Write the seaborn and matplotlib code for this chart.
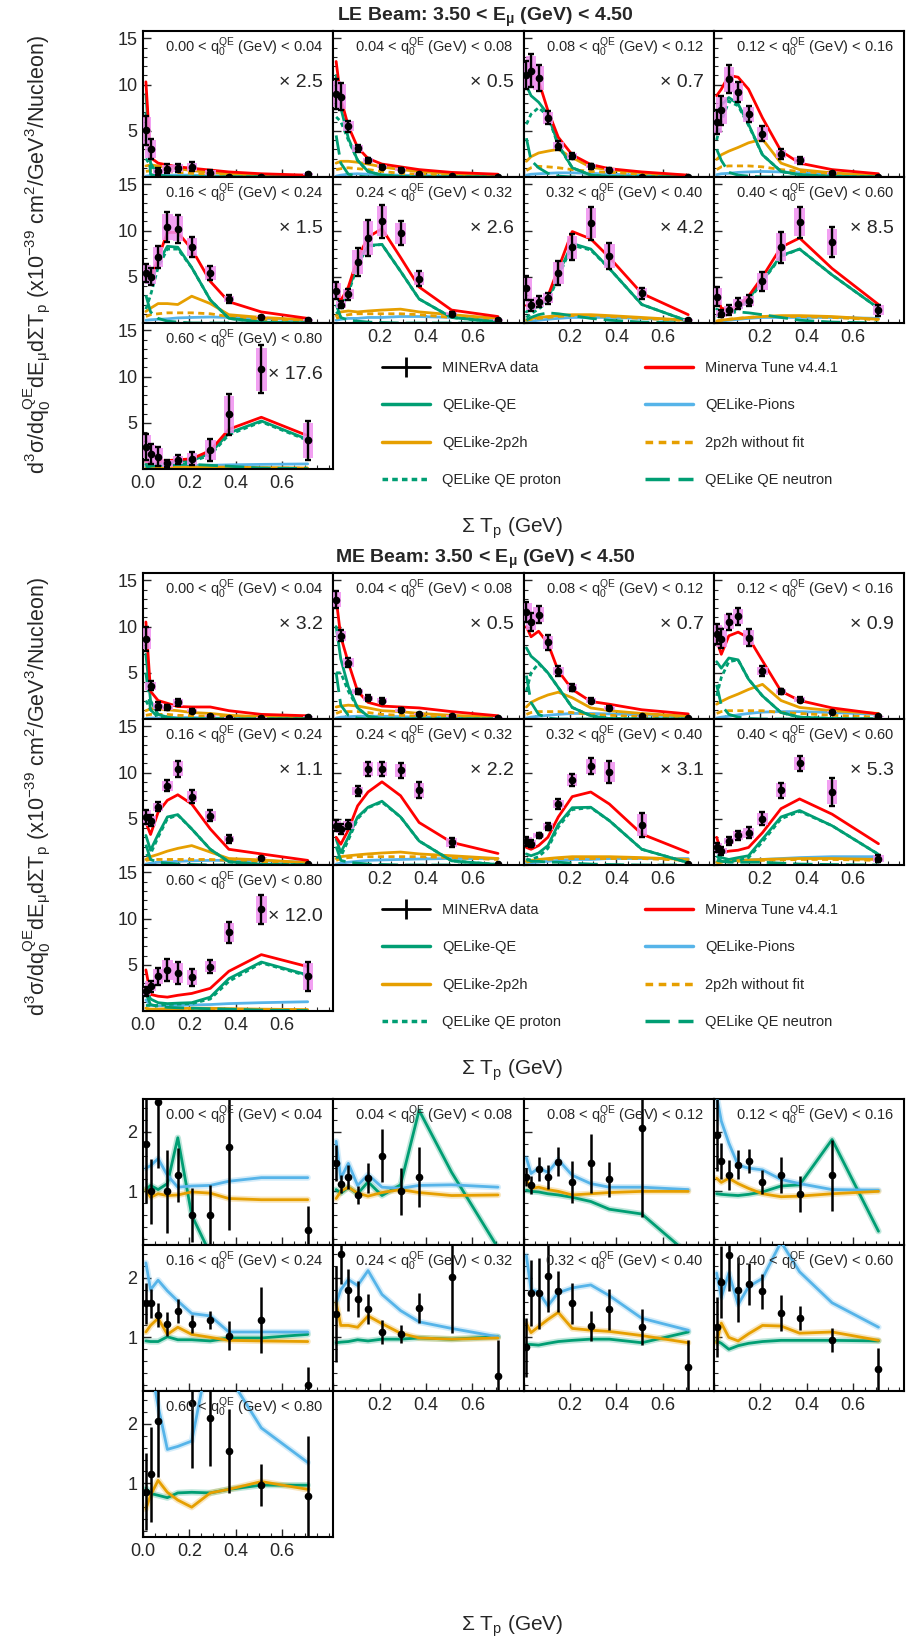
import numpy as np
import matplotlib
matplotlib.use("Agg")
import matplotlib.pyplot as plt
import seaborn as sns
from matplotlib.lines import Line2D
from matplotlib.ticker import MultipleLocator, FixedLocator

sns.set_theme(style="ticks")
plt.rcParams["font.family"] = ["Liberation Sans", "DejaVu Sans"]
plt.rcParams["mathtext.fontset"] = "custom"
plt.rcParams["mathtext.rm"] = "Liberation Sans"
plt.rcParams["mathtext.it"] = "Liberation Sans:italic"
plt.rcParams["mathtext.bf"] = "Liberation Sans:bold"

# --- Data ---
x_centers = [0.0125, 0.0325, 0.065, 0.105, 0.15, 0.21, 0.29, 0.37, 0.51, 0.71]
q0_edges = ["0.00", "0.04", "0.08", "0.12", "0.16", "0.24", "0.32", "0.40", "0.60", "0.80"]
le_scale = ["2.5", "0.5", "0.7", None, "1.5", "2.6", "4.2", "8.5", "17.6"]
me_scale = ["3.2", "0.5", "0.7", "0.9", "1.1", "2.2", "3.1", "5.3", "12.0"]

le_data = [
    [5.05, 3.0, 0.6, 0.9, 1.0, 1.1, 0.45, 0.05, 0.05, 0.3],
    [9.0, 8.7, 5.5, 3.1, 1.8, 1.1, 0.8, 0.3, 0.1, 0.05],
    [11.0, 11.5, 10.7, 6.4, 3.4, 2.3, 1.15, 0.8, 0.05, 0.02],
    [5.9, 7.2, 10.6, 9.2, 6.8, 4.7, 2.5, 1.8, 0.45, 0.05],
    [5.4, 5.0, 7.1, 10.4, 10.2, 8.2, 5.4, 2.6, 0.7, 0.3],
    [3.5, 2.0, 3.1, 6.6, 9.2, 11.0, 9.7, 4.8, 1.0, 0.3],
    [3.75, 1.9, 2.3, 2.7, 5.4, 8.2, 10.8, 7.25, 3.2, 0.35],
    [2.85, 1.0, 1.4, 2.1, 2.4, 4.5, 8.2, 10.9, 8.75, 1.4],
    [2.4, 1.6, 1.35, 0.6, 1.0, 1.1, 2.1, 5.9, 10.8, 3.1],
]
le_err = [
    [1.6, 1.1, 0.35, 0.5, 0.45, 0.5, 0.3, 0.1, 0.05, 0.1],
    [1.6, 1.5, 0.6, 0.4, 0.3, 0.2, 0.15, 0.1, 0.05, 0.05],
    [1.5, 1.8, 1.4, 0.7, 0.45, 0.35, 0.25, 0.2, 0.05, 0.02],
    [1.3, 1.6, 1.5, 1.1, 0.9, 0.8, 0.5, 0.4, 0.1, 0.05],
    [1.0, 0.9, 1.2, 1.6, 1.5, 1.1, 0.8, 0.4, 0.1, 0.1],
    [0.9, 0.4, 0.6, 1.5, 2.0, 1.8, 1.3, 0.8, 0.2, 0.1],
    [1.3, 0.6, 0.6, 0.6, 1.3, 1.4, 1.8, 1.4, 0.6, 0.1],
    [1.0, 0.4, 0.5, 0.6, 0.6, 1.0, 1.7, 1.7, 1.6, 0.6],
    [1.4, 1.1, 1.0, 0.4, 0.5, 0.7, 1.2, 2.2, 2.6, 2.1],
]
le_tune = [
    [10.3, 2.1, 1.5, 1.3, 1.1, 0.95, 0.75, 0.55, 0.35, 0.2],
    [12.5, 8.5, 5.5, 3.2, 2.0, 1.4, 1.1, 0.8, 0.5, 0.3],
    [11.5, 11.2, 10.4, 7.2, 4.3, 2.4, 1.35, 0.9, 0.55, 0.2],
    [8.8, 9.5, 11.0, 10.8, 9.5, 6.4, 2.8, 1.5, 0.8, 0.35],
    [5.5, 4.8, 7.0, 9.8, 9.8, 8.0, 4.5, 2.3, 1.2, 0.5],
    [4.4, 2.4, 3.9, 7.0, 9.3, 10.2, 7.1, 3.9, 1.4, 0.7],
    [1.9, 1.8, 2.0, 2.9, 5.9, 9.9, 9.1, 7.1, 3.2, 0.9],
    [3.0, 1.6, 1.4, 1.8, 2.9, 5.0, 8.2, 9.2, 5.9, 2.0],
    [0.8, 0.7, 0.8, 0.9, 1.0, 1.1, 2.0, 4.3, 5.6, 3.6],
]
le_qe = [
    [9.0, 1.5, 0.2, 0.05, 0, 0, 0, 0, 0, 0],
    [11.0, 7.5, 4.2, 1.8, 0.6, 0.2, 0.05, 0, 0, 0],
    [9.9, 8.8, 8.1, 6.8, 3.5, 1.0, 0.2, 0.05, 0, 0],
    [7.0, 7.8, 8.6, 7.9, 5.7, 2.4, 0.6, 0.25, 0.05, 0],
    [4.5, 4.2, 6.5, 8.3, 8.2, 6.0, 2.5, 0.5, 0.1, 0],
    [3.0, 2.0, 3.5, 6.5, 8.4, 8.5, 5.6, 2.6, 0.6, 0.1],
    [1.2, 1.5, 1.8, 2.6, 5.3, 8.6, 8.0, 5.9, 2.0, 0.2],
    [1.5, 1.2, 1.2, 1.6, 2.6, 4.6, 7.3, 8.0, 5.2, 1.6],
    [0.5, 0.5, 0.6, 0.7, 0.8, 0.9, 1.7, 3.9, 5.2, 3.2],
]
le_qe_p = [
    [2.0, 1.2, 0.2, 0.05, 0, 0, 0, 0, 0, 0],
    [6.5, 6.0, 4.0, 1.8, 0.6, 0.2, 0.05, 0, 0, 0],
    [5.7, 6.8, 7.5, 6.6, 3.4, 1.0, 0.2, 0.05, 0, 0],
    [4.0, 6.0, 8.2, 7.7, 5.6, 2.4, 0.6, 0.25, 0.05, 0],
    [1.5, 3.0, 6.0, 8.0, 8.0, 6.0, 2.5, 0.5, 0.1, 0],
    [1.0, 1.5, 3.2, 6.3, 8.3, 8.5, 5.6, 2.6, 0.6, 0.1],
    [0.6, 1.0, 1.5, 2.3, 5.0, 8.4, 7.9, 5.9, 2.0, 0.2],
    [0.7, 0.8, 1.0, 1.4, 2.4, 4.5, 7.2, 8.0, 5.2, 1.6],
    [0.3, 0.3, 0.4, 0.5, 0.6, 0.8, 1.5, 3.7, 5.1, 3.1],
]
le_qe_n = [
    [7.0, 0.3, 0, 0, 0, 0, 0, 0, 0, 0],
    [4.5, 1.5, 0.3, 0.1, 0, 0, 0, 0, 0, 0],
    [4.2, 1.8, 1.0, 0.4, 0.1, 0, 0, 0, 0, 0],
    [3.0, 1.8, 0.5, 0.2, 0.1, 0, 0, 0, 0, 0],
    [3.0, 1.2, 0.5, 0.2, 0.1, 0, 0, 0, 0, 0],
    [2.0, 0.6, 0.3, 0.2, 0.1, 0.05, 0, 0, 0, 0],
    [0.3, 0.6, 0.9, 1.1, 1.0, 0.8, 0.5, 0.3, 0.1, 0],
    [0.8, 1.0, 1.1, 1.2, 1.1, 0.9, 0.6, 0.3, 0.1, 0],
    [0.2, 0.3, 0.4, 0.4, 0.5, 0.5, 0.4, 0.3, 0.1, 0.05],
]
le_mec = [
    [1.2, 1.3, 1.2, 1.0, 0.9, 0.7, 0.5, 0.35, 0.2, 0.1],
    [1.5, 1.7, 1.7, 1.6, 1.4, 1.1, 0.8, 0.6, 0.35, 0.15],
    [1.7, 2.2, 2.6, 2.8, 3.0, 2.1, 1.05, 0.8, 0.45, 0.15],
    [1.9, 2.4, 2.8, 3.2, 3.7, 4.1, 1.5, 0.8, 0.45, 0.15],
    [1.25, 1.6, 2.1, 2.1, 2.0, 2.9, 2.1, 0.9, 0.6, 0.35],
    [0.8, 1.2, 1.3, 1.2, 1.3, 1.4, 1.5, 1.2, 0.9, 0.5],
    [0.3, 0.5, 0.6, 0.7, 0.8, 0.9, 0.9, 0.8, 0.6, 0.3],
    [0.2, 0.3, 0.4, 0.5, 0.6, 0.7, 0.8, 0.8, 0.7, 0.4],
    [0.1, 0.1, 0.15, 0.2, 0.2, 0.2, 0.2, 0.2, 0.15, 0.1],
]
le_mec_nofit = [
    [0.6, 0.7, 0.7, 0.6, 0.5, 0.4, 0.3, 0.2, 0.1, 0.05],
    [0.8, 0.9, 1.0, 0.9, 0.8, 0.6, 0.4, 0.3, 0.2, 0.1],
    [0.7, 1.0, 1.15, 1.1, 1.0, 0.8, 0.6, 0.5, 0.3, 0.1],
    [0.8, 1.1, 1.2, 1.2, 1.2, 1.1, 0.8, 0.6, 0.35, 0.1],
    [0.7, 0.9, 1.0, 1.1, 1.1, 1.1, 1.0, 0.7, 0.4, 0.2],
    [0.5, 0.7, 0.9, 1.0, 1.0, 1.0, 1.0, 0.9, 0.6, 0.3],
    [0.3, 0.4, 0.5, 0.6, 0.7, 0.8, 0.8, 0.7, 0.5, 0.25],
    [0.2, 0.3, 0.4, 0.5, 0.6, 0.7, 0.7, 0.7, 0.6, 0.35],
    [0.1, 0.1, 0.1, 0.15, 0.15, 0.15, 0.15, 0.15, 0.1, 0.1],
]
le_pion = [
    [0.1, 0.15, 0.2, 0.2, 0.2, 0.2, 0.15, 0.1, 0.1, 0.05],
    [0.1, 0.2, 0.3, 0.35, 0.3, 0.25, 0.2, 0.15, 0.1, 0.05],
    [0.2, 0.3, 0.35, 0.4, 0.45, 0.45, 0.4, 0.3, 0.2, 0.1],
    [0.25, 0.35, 0.4, 0.5, 0.55, 0.6, 0.55, 0.45, 0.3, 0.15],
    [0.3, 0.35, 0.4, 0.45, 0.55, 0.6, 0.65, 0.6, 0.5, 0.3],
    [0.3, 0.4, 0.5, 0.5, 0.6, 0.6, 0.7, 0.7, 0.6, 0.4],
    [0.1, 0.2, 0.3, 0.4, 0.5, 0.6, 0.6, 0.6, 0.5, 0.3],
    [0.1, 0.2, 0.3, 0.4, 0.5, 0.6, 0.6, 0.6, 0.6, 0.5],
    [0.3, 0.3, 0.3, 0.35, 0.35, 0.4, 0.4, 0.45, 0.5, 0.55],
]

me_data = [
    [8.7, 3.6, 1.4, 1.25, 1.8, 0.9, 0.35, 0.15, 0.15, 0.25],
    [12.9, 9.0, 6.1, 3.0, 2.25, 2.0, 0.95, 0.55, 0.3, 0.15],
    [11.6, 10.5, 11.3, 8.3, 5.2, 3.4, 2.0, 1.2, 0.3, 0.1],
    [9.2, 8.7, 10.5, 11.1, 8.8, 5.2, 3.0, 2.1, 0.8, 0.3],
    [5.2, 4.8, 6.3, 8.6, 10.4, 7.4, 5.35, 2.8, 0.8, 0.1],
    [4.25, 3.9, 4.35, 8.0, 10.4, 10.4, 10.25, 8.1, 2.45, 0.1],
    [2.55, 2.3, 3.2, 4.15, 6.6, 9.2, 10.7, 10.1, 4.35, 0.1],
    [1.9, 1.5, 2.6, 3.2, 3.5, 5.0, 8.1, 11.0, 7.9, 0.7],
    [2.15, 2.7, 3.75, 4.45, 4.1, 3.65, 4.8, 8.5, 11.0, 3.75],
]
me_err = [
    [1.3, 0.5, 0.4, 0.3, 0.4, 0.2, 0.1, 0.05, 0.05, 0.05],
    [0.9, 0.6, 0.5, 0.3, 0.3, 0.3, 0.2, 0.15, 0.1, 0.05],
    [1.1, 1.0, 0.9, 0.8, 0.5, 0.4, 0.3, 0.2, 0.05, 0.05],
    [1.1, 1.0, 0.9, 0.9, 0.9, 0.5, 0.3, 0.3, 0.1, 0.05],
    [0.8, 0.6, 0.5, 0.6, 0.9, 0.7, 0.6, 0.4, 0.1, 0.05],
    [0.6, 0.5, 0.5, 0.5, 0.8, 0.8, 0.8, 0.9, 0.5, 0.05],
    [0.5, 0.4, 0.3, 0.4, 0.5, 0.7, 0.9, 1.2, 1.3, 0.05],
    [0.5, 0.4, 0.4, 0.5, 0.6, 0.7, 0.8, 0.8, 1.5, 0.4],
    [0.5, 0.6, 0.9, 1.2, 1.2, 0.9, 0.7, 1.1, 1.6, 1.6],
]
me_tune = [
    [10.5, 3.0, 2.0, 1.7, 1.35, 1.3, 1.3, 0.9, 0.5, 0.35],
    [13.0, 8.9, 6.1, 3.0, 1.8, 1.4, 1.3, 1.2, 0.8, 0.35],
    [10.0, 8.9, 9.5, 8.2, 5.2, 3.2, 1.9, 1.6, 1.0, 0.55],
    [8.5, 7.0, 9.0, 9.4, 8.8, 6.3, 3.0, 2.0, 1.2, 0.55],
    [4.6, 3.3, 5.7, 7.0, 7.6, 6.6, 3.9, 1.7, 1.2, 0.5],
    [3.0, 2.25, 3.8, 6.4, 7.9, 9.0, 7.5, 4.6, 2.45, 1.25],
    [1.9, 1.7, 2.1, 3.0, 5.2, 7.4, 7.9, 6.6, 3.35, 1.35],
    [3.0, 1.35, 1.5, 1.6, 1.9, 3.5, 6.1, 7.15, 5.5, 2.3],
    [4.45, 1.8, 1.6, 1.5, 1.7, 1.9, 2.45, 4.3, 6.1, 4.8],
]
me_qe = [
    [7.0, 2.0, 0.5, 0.2, 0.05, 0, 0, 0, 0, 0],
    [10.0, 6.5, 3.5, 1.2, 0.3, 0.05, 0, 0, 0, 0],
    [7.7, 6.8, 6.1, 5.0, 3.4, 1.25, 0.35, 0.05, 0, 0],
    [6.2, 5.5, 6.6, 6.4, 4.3, 2.5, 0.7, 0.2, 0.05, 0],
    [3.2, 1.6, 3.3, 5.2, 5.45, 3.9, 1.7, 0.35, 0.07, 0],
    [2.8, 1.35, 3.0, 5.2, 6.25, 6.9, 5.2, 2.6, 0.45, 0.05],
    [1.2, 1.0, 1.3, 2.1, 4.4, 6.2, 6.25, 4.8, 1.7, 0.25],
    [1.5, 0.8, 0.6, 0.8, 1.0, 2.8, 5.2, 5.9, 4.25, 1.15],
    [2.5, 1.3, 0.9, 0.8, 0.85, 0.9, 1.5, 3.5, 5.3, 3.9],
]
me_qe_p = [
    [2.0, 1.0, 0.3, 0.1, 0, 0, 0, 0, 0, 0],
    [5.0, 5.0, 3.0, 1.2, 0.3, 0.05, 0, 0, 0, 0],
    [3.0, 5.0, 6.0, 5.0, 3.4, 1.25, 0.35, 0.05, 0, 0],
    [2.5, 4.5, 6.2, 6.4, 4.3, 2.5, 0.7, 0.2, 0.05, 0],
    [1.0, 1.2, 3.0, 5.0, 5.4, 3.9, 1.7, 0.35, 0.07, 0],
    [0.8, 0.9, 2.7, 5.0, 6.2, 6.8, 5.2, 2.6, 0.45, 0.05],
    [0.5, 0.6, 0.9, 1.8, 4.1, 6.0, 6.2, 4.8, 1.7, 0.25],
    [0.5, 0.4, 0.4, 0.5, 0.8, 2.5, 5.0, 5.8, 4.25, 1.15],
    [0.6, 0.6, 0.6, 0.7, 0.75, 0.8, 1.3, 3.2, 5.2, 3.8],
]
me_qe_n = [
    [5.0, 1.0, 0.2, 0.05, 0, 0, 0, 0, 0, 0],
    [5.0, 1.5, 0.4, 0.1, 0, 0, 0, 0, 0, 0],
    [4.7, 1.8, 0.5, 0.1, 0, 0, 0, 0, 0, 0],
    [3.7, 1.5, 0.5, 0.2, 0.05, 0, 0, 0, 0, 0],
    [2.2, 0.6, 0.3, 0.2, 0.1, 0.05, 0, 0, 0, 0],
    [2.0, 0.5, 0.3, 0.2, 0.1, 0.05, 0, 0, 0, 0],
    [0.7, 0.4, 0.4, 0.3, 0.3, 0.2, 0.1, 0.05, 0, 0],
    [1.0, 0.4, 0.3, 0.3, 0.3, 0.3, 0.2, 0.1, 0.05, 0],
    [1.9, 0.7, 0.5, 0.4, 0.35, 0.3, 0.25, 0.2, 0.1, 0.05],
]
me_mec = [
    [0.9, 1.1, 1.1, 1.0, 0.9, 0.7, 0.6, 0.4, 0.25, 0.15],
    [1.3, 1.4, 1.5, 1.4, 1.2, 0.9, 0.8, 0.6, 0.4, 0.2],
    [1.3, 1.8, 2.2, 2.6, 2.9, 2.3, 1.2, 0.9, 0.6, 0.3],
    [1.6, 1.9, 2.3, 2.7, 3.2, 3.75, 2.0, 1.25, 0.9, 0.6],
    [0.6, 0.9, 1.15, 1.5, 1.8, 2.1, 1.4, 0.7, 0.55, 0.25],
    [0.7, 0.9, 1.0, 1.1, 1.2, 1.3, 1.4, 1.2, 1.0, 0.7],
    [0.4, 0.5, 0.6, 0.7, 0.8, 0.9, 0.9, 0.9, 0.8, 0.6],
    [0.3, 0.35, 0.4, 0.5, 0.55, 0.6, 0.65, 0.7, 0.7, 0.6],
    [0.3, 0.2, 0.2, 0.25, 0.25, 0.3, 0.3, 0.25, 0.2, 0.15],
]
me_mec_nofit = [
    [0.4, 0.5, 0.5, 0.5, 0.4, 0.35, 0.3, 0.2, 0.1, 0.05],
    [0.6, 0.8, 0.8, 0.8, 0.7, 0.5, 0.4, 0.3, 0.2, 0.1],
    [0.5, 0.7, 0.8, 0.8, 0.8, 0.7, 0.5, 0.4, 0.25, 0.1],
    [0.6, 0.8, 0.9, 0.9, 0.9, 0.9, 0.7, 0.6, 0.4, 0.2],
    [0.5, 0.6, 0.6, 0.6, 0.6, 0.6, 0.6, 0.5, 0.35, 0.15],
    [0.5, 0.7, 0.8, 0.9, 0.9, 0.9, 0.9, 0.9, 0.8, 0.6],
    [0.3, 0.4, 0.5, 0.6, 0.7, 0.7, 0.7, 0.7, 0.7, 0.5],
    [0.2, 0.3, 0.35, 0.4, 0.45, 0.5, 0.55, 0.6, 0.6, 0.5],
    [0.2, 0.15, 0.15, 0.2, 0.2, 0.2, 0.2, 0.2, 0.15, 0.1],
]
me_pion = [
    [0.05, 0.1, 0.1, 0.15, 0.15, 0.15, 0.1, 0.1, 0.05, 0.05],
    [0.1, 0.2, 0.25, 0.3, 0.3, 0.3, 0.25, 0.2, 0.15, 0.1],
    [0.1, 0.2, 0.3, 0.4, 0.5, 0.6, 0.6, 0.55, 0.45, 0.3],
    [0.1, 0.2, 0.3, 0.45, 0.6, 0.75, 0.8, 0.8, 0.7, 0.5],
    [0.1, 0.2, 0.3, 0.35, 0.4, 0.45, 0.5, 0.5, 0.45, 0.3],
    [0.1, 0.2, 0.3, 0.4, 0.5, 0.55, 0.6, 0.65, 0.7, 0.7],
    [0.2, 0.25, 0.3, 0.4, 0.5, 0.6, 0.6, 0.7, 0.7, 0.7],
    [0.3, 0.35, 0.4, 0.5, 0.55, 0.6, 0.7, 0.8, 0.9, 0.9],
    [1.2, 0.6, 0.55, 0.6, 0.6, 0.65, 0.7, 0.8, 0.9, 1.0],
]

ratio_data = [
    [1.8, 1.0, 2.5, 1.0, 1.27, 0.6, 0.6, 1.75, None, 0.36],
    [1.47, 1.13, 1.24, 0.94, 1.22, 1.6, 1.0, 1.24, None, None],
    [1.24, 1.1, 1.37, 1.24, 1.5, 1.16, 1.47, 1.2, 2.07, None],
    [1.95, 1.51, 1.27, 1.45, 1.51, 1.16, 1.28, 0.96, 1.27, None],
    [1.57, 1.57, 1.38, 1.23, 1.44, 1.22, 1.29, 1.03, 1.29, 0.2],
    [1.39, 2.4, 1.8, 1.65, 1.48, 1.09, 1.06, 1.49, 2.02, 0.35],
    [0.83, 1.74, 1.74, 2.03, 1.77, 1.57, 1.19, 1.47, 1.17, 0.51],
    [1.17, 1.93, 2.38, 1.8, 1.9, 1.77, 1.41, 1.32, 0.95, 0.47],
    [0.86, 1.15, 2.05, None, None, 2.35, 2.09, 1.54, 0.97, 0.79],
]
ratio_err = [
    [1.0, 0.55, 1.1, 0.7, 0.45, 0.45, 0.5, 1.4, None, 0.4],
    [0.3, 0.15, 0.2, 0.15, 0.25, 0.45, 0.4, 0.5, None, None],
    [0.15, 0.15, 0.2, 0.2, 0.25, 0.35, 0.5, 0.3, 1.5, None],
    [0.6, 0.3, 0.25, 0.25, 0.2, 0.2, 0.3, 0.3, 0.6, None],
    [0.35, 0.25, 0.2, 0.2, 0.2, 0.15, 0.15, 0.25, 0.55, 0.3],
    [0.8, 0.5, 0.35, 0.3, 0.25, 0.2, 0.15, 0.25, 0.95, 0.6],
    [0.5, 0.55, 0.6, 0.6, 0.35, 0.35, 0.25, 0.35, 0.3, 0.45],
    [0.5, 0.6, 0.6, 0.55, 0.35, 0.3, 0.3, 0.2, 0.2, 0.35],
    [0.65, 0.8, 0.95, None, None, 1.1, 0.8, 0.7, 0.35, 1.0],
]
ratio_qe = [
    [1.03, 1.1, 1.03, 1.13, 1.9, 0.6, -0.05, -0.5, -1.0, -1.0],
    [1.03, 0.97, 1.07, 0.96, 1.16, 0.93, 1.11, 2.36, 1.32, 0.05],
    [1.02, 1.0, 0.99, 0.96, 0.94, 0.9, 0.83, 0.7, 0.62, -0.05],
    [0.96, 0.95, 0.94, 0.93, 0.95, 0.99, 1.09, 1.11, 1.87, 0.33],
    [0.94, 0.93, 0.93, 1.01, 0.96, 0.96, 0.94, 0.99, 0.99, 1.05],
    [0.91, 0.92, 0.93, 0.96, 0.94, 0.97, 0.97, 0.99, 0.97, 1.01],
    [0.88, 0.88, 0.87, 0.9, 0.93, 0.95, 0.97, 0.97, 0.91, 1.09],
    [0.94, 0.9, 0.8, 0.86, 0.9, 0.93, 0.95, 0.95, 0.95, 0.94],
    [0.92, 0.83, 0.8, 0.76, 0.84, 0.85, 0.84, 0.9, 0.97, 0.97],
]
ratio_pion = [
    [1.39, 1.43, 1.55, 1.27, 1.07, 1.09, 1.1, 1.17, 1.23, 1.23],
    [1.84, 1.22, 1.47, 1.1, 1.28, 1.07, 1.05, 1.1, 1.11, 1.07],
    [1.56, 1.3, 1.39, 1.32, 1.53, 1.27, 1.13, 1.07, 1.07, 1.03],
    [2.6, 2.18, 1.81, 1.44, 1.39, 1.36, 1.2, 1.13, 1.03, 1.02],
    [2.25, 1.8, 1.96, 1.78, 1.61, 1.4, 1.36, 1.09, 1.09, 1.09],
    [1.57, 1.8, 1.97, 1.87, 2.12, 1.72, 1.45, 1.26, 1.15, 1.01],
    [2.37, 1.8, 1.76, 1.53, 1.75, 1.83, 1.88, 1.7, 1.32, 1.12],
    [2.08, 1.67, 2.08, 1.55, 1.85, 1.99, 2.6, 2.1, 1.58, 1.17],
    [3.2, 3.0, 2.3, 1.57, 1.62, 1.71, 3.3, 2.8, 1.93, 1.35],
]
ratio_mec = [
    [1.03, 0.9, 0.96, 0.93, 0.94, 0.99, 0.97, 0.88, 0.86, 0.86],
    [0.88, 1.0, 1.07, 0.97, 0.92, 0.98, 1.03, 0.98, 0.93, 0.94],
    [1.19, 1.05, 1.07, 1.03, 1.0, 0.94, 0.96, 0.98, 1.0, 1.0],
    [1.22, 1.15, 1.22, 1.13, 1.05, 0.96, 0.91, 0.92, 0.96, 1.0],
    [1.09, 1.2, 1.32, 1.05, 1.17, 1.05, 1.0, 0.95, 0.94, 0.93],
    [1.58, 1.2, 1.2, 1.17, 1.36, 1.23, 1.07, 0.99, 0.97, 0.99],
    [1.23, 1.08, 1.18, 1.3, 1.42, 1.15, 1.12, 1.1, 1.03, 0.91],
    [0.91, 1.24, 1.0, 0.94, 1.06, 1.2, 1.19, 1.07, 1.09, 0.95],
    [0.57, 0.8, 1.05, 0.85, 0.72, 0.6, 0.84, 0.9, 1.03, 0.9],
]

# --- Styling ---
RED, GREEN, ORANGE, BLUE = "#FF0000", "#009E73", "#E69F00", "#56B4E9"
BOX = "#F090F0"
DOT = (0, (1.6, 1.2))
SHORT = (0, (2.2, 1.6))
LONG = (0, (7, 2.5))

YLABEL = (r"$\mathregular{d^{3}\sigma/dq_{0}^{QE}dE_{\mu}d\Sigma T_{p}}$ "
          r"(x10$\mathregular{^{-39}}$ cm$\mathregular{^{2}}$/GeV$\mathregular{^{3}}$/Nucleon)")
XLABEL = r"$\mathregular{\Sigma\ T_{p}}$ (GeV)"

W, H = 906, 1641
fig = plt.figure(figsize=(W / 100, H / 100), dpi=100)
col_left = [143, 333.25, 523.5, 713.75]
col_w = 190.25
row_h = 146


def panel(left, top):
    return fig.add_axes([left / W, 1 - (top + row_h) / H, col_w / W, row_h / H])


def style(ax, r, c, ymajor, ylabels, yminor, ylim):
    ax.set_xlim(0, 0.82)
    ax.set_ylim(*ylim)
    ax.xaxis.set_major_locator(FixedLocator([0.0, 0.2, 0.4, 0.6]))
    ax.xaxis.set_minor_locator(MultipleLocator(0.05))
    ax.yaxis.set_major_locator(FixedLocator(ymajor))
    ax.yaxis.set_minor_locator(MultipleLocator(yminor))
    ax.tick_params(which="both", direction="in", top=False, right=False,
                   labelsize=13, pad=4)
    ax.tick_params(which="major", length=6, width=1)
    ax.tick_params(which="minor", length=3, width=0.8)
    for s in ax.spines.values():
        s.set_linewidth(1.5)
        s.set_color("black")
    ax.set_yticklabels(ylabels if c == 0 else [])
    if r == 2 and c == 0:
        ax.set_xticklabels(["0.0", "0.2", "0.4", "0.6"])
    elif r == 1 and c > 0:
        ax.set_xticklabels(["", "0.2", "0.4", "0.6"])
    else:
        ax.set_xticklabels([])
    ax.set_xlabel("")
    ax.set_ylabel("")


def q0_label(ax, i):
    ax.text(0.947, 0.89, f"{q0_edges[i]} < $\\mathregular{{q_0^{{QE}}}}$ (GeV) < {q0_edges[i + 1]}",
            transform=ax.transAxes, ha="right", va="center", fontsize=10.5, zorder=6)


def xsec_block(top, title, data, err, tune, qe, pion, mec, mec_nofit, qe_p, qe_n, scale):
    fig.text(485 / W, 1 - (top - 14) / H, title, ha="center", va="center",
             fontsize=14, fontweight="bold")
    for i in range(9):
        r, c = divmod(i, 4)
        ax = panel(col_left[c], top + r * row_h)
        curves = [
            (pion[i], BLUE, "-"),
            (mec_nofit[i], ORANGE, SHORT),
            (mec[i], ORANGE, "-"),
            (qe_n[i], GREEN, LONG),
            (qe_p[i], GREEN, DOT),
            (qe[i], GREEN, "-"),
            (tune[i], RED, "-"),
        ]
        for yv, col, ls in curves:
            sns.lineplot(x=x_centers, y=yv, color=col, linewidth=2, linestyle=ls,
                         ax=ax, legend=False, zorder=2)
        y = np.array(data[i], dtype=float)
        e = np.array(err[i], dtype=float)
        ax.bar(x_centers, 1.8 * e, bottom=y - 0.9 * e, width=0.045, color=BOX,
               alpha=0.85, linewidth=0, zorder=3)
        ax.errorbar(x_centers, y, yerr=e, fmt="o", color="black", markersize=4.5,
                    elinewidth=1.7, capsize=2.3, capthick=1.7, zorder=5)
        style(ax, r, c, [5, 10, 15], ["5", "10", "15"], 1, (0, 15.8))
        q0_label(ax, i)
        if scale[i] is not None:
            ax.text(0.947, 0.645, "\u00d7 " + scale[i], transform=ax.transAxes,
                    ha="right", va="center", fontsize=14)
    fig.text(37 / W, 1 - (top + 1.5 * row_h + 5) / H, YLABEL,
             rotation=90, ha="center", va="center", fontsize=15.5)
    fig.text(512 / W, 1 - (top + 3 * row_h + 59) / H, XLABEL,
             ha="center", va="center", fontsize=15)

    col1 = [
        (Line2D([], [], color="black", lw=2, marker="|", markersize=15, mew=2), "MINERvA data"),
        (Line2D([], [], color=GREEN, lw=2.5), "QELike-QE"),
        (Line2D([], [], color=ORANGE, lw=2.5), "QELike-2p2h"),
        (Line2D([], [], color=GREEN, lw=2.5, ls=DOT), "QELike QE proton"),
    ]
    col2 = [
        (Line2D([], [], color=RED, lw=2.5), "Minerva Tune v4.4.1"),
        (Line2D([], [], color=BLUE, lw=2.5), "QELike-Pions"),
        (Line2D([], [], color=ORANGE, lw=2.5, ls=SHORT), "2p2h without fit"),
        (Line2D([], [], color=GREEN, lw=2.5, ls=LONG), "QELike QE neutron"),
    ]
    for entries, xl in [(col1, 382), (col2, 645)]:
        fig.legend([h for h, _ in entries], [t for _, t in entries], loc="upper left",
                   bbox_to_anchor=(xl / W, 1 - (top + 2 * row_h + 38) / H),
                   frameon=False, fontsize=10.5, handlelength=3.3, handletextpad=0.8,
                   labelspacing=1.6, borderpad=0, borderaxespad=0)


xsec_block(31, r"LE Beam: 3.50 < $\mathbf{E}_{\mathregular{\mu}}$ (GeV) < 4.50",
           le_data, le_err, le_tune, le_qe, le_pion, le_mec, le_mec_nofit, le_qe_p, le_qe_n, le_scale)
xsec_block(573, r"ME Beam: 3.50 < $\mathbf{E}_{\mathregular{\mu}}$ (GeV) < 4.50",
           me_data, me_err, me_tune, me_qe, me_pion, me_mec, me_mec_nofit, me_qe_p, me_qe_n, me_scale)

# --- Ratio block ---
top3 = 1099
for i in range(9):
    r, c = divmod(i, 4)
    ax = panel(col_left[c], top3 + r * row_h)
    for yv, col in [(ratio_qe[i], GREEN), (ratio_pion[i], BLUE), (ratio_mec[i], ORANGE)]:
        sns.lineplot(x=x_centers, y=yv, color=col, linewidth=4.5, alpha=0.25,
                     ax=ax, legend=False, zorder=2)
        sns.lineplot(x=x_centers, y=yv, color=col, linewidth=2, ax=ax,
                     legend=False, zorder=3)
    y = np.array(ratio_data[i], dtype=float)
    e = np.array(ratio_err[i], dtype=float)
    ax.errorbar(x_centers, y, yerr=e, fmt="o", color="black", markersize=4.5,
                elinewidth=1.8, capsize=0, zorder=5)
    style(ax, r, c, [1, 2], ["1", "2"], 0.2, (0.1, 2.55))
    q0_label(ax, i)

fig.text(512 / W, 1 - 1626 / H, XLABEL, ha="center", va="center", fontsize=15)

fig.savefig("out.png", dpi=100)
